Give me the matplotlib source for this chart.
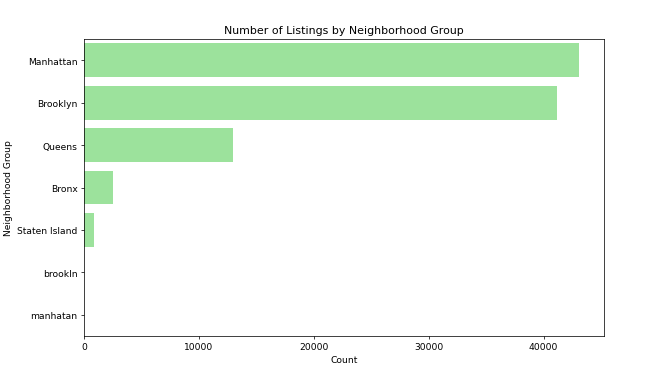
import matplotlib
matplotlib.use("Agg")
import matplotlib.pyplot as plt
import seaborn as sns

groups = ["Manhattan", "Brooklyn", "Queens", "Bronx", "Staten Island", "brookln", "manhatan"]
counts = [43100, 41200, 13000, 2580, 870, 1, 1]

fig, ax = plt.subplots(figsize=(10, 5.712), dpi=66)
sns.barplot(x=counts, y=groups, color="lightgreen", orient="h", ax=ax)
ax.set_title("Number of Listings by Neighborhood Group")
ax.set_xlabel("Count")
ax.set_ylabel("Neighborhood Group")
fig.subplots_adjust(left=0.127, right=0.915, bottom=0.106, top=0.894)
fig.savefig("out.png", dpi=66)
